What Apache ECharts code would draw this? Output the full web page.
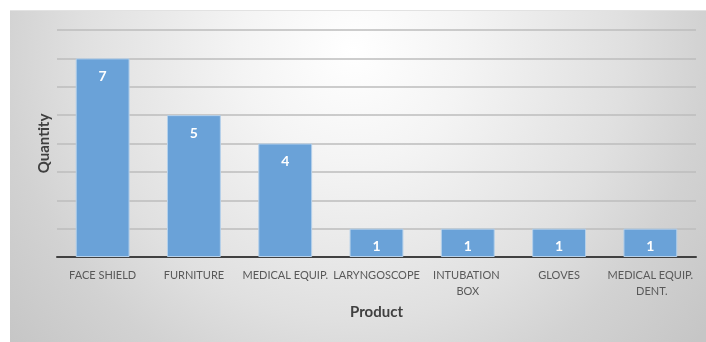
<!DOCTYPE html>
<html>
<head>
<meta charset="utf-8">
<script src="https://cdn.jsdelivr.net/npm/echarts@6/dist/echarts.min.js"></script>
<style>
  html, body { margin: 0; padding: 0; background: #ffffff; }
  #chart { width: 706px; height: 342px; }
</style>
</head>
<body>
<div id="chart"></div>
<script>
// Products and their quantities
const products = ['FACE SHIELD', 'FURNITURE', 'MEDICAL EQUIP.', 'LARYNGOSCOPE', 'INTUBATION BOX', 'GLOVES', 'MEDICAL EQUIP. DENT.'];
const quantities = [7, 5, 4, 1, 1, 1, 1];
const axisMax = 8;
const axisStep = 1;

const chart = echarts.init(document.getElementById('chart'), null, { renderer: 'canvas' });

const font = 'Lato, "Open Sans", sans-serif';

chart.setOption({
  animation: false,
  backgroundColor: '#ffffff',
  graphic: [{
    type: 'rect',
    z: -10,
    silent: true,
    shape: { x: 10, y: 10, width: 696, height: 332 },
    style: {
      // soft radial shading, brightest near the top centre of the panel
      fill: new echarts.graphic.RadialGradient(353, 50, 450, [
        { offset: 0, color: '#ffffff' },
        { offset: 0.25, color: '#f4f4f4' },
        { offset: 0.6, color: '#e0e0e0' },
        { offset: 0.78, color: '#d2d2d2' },
        { offset: 1, color: '#c6c6c6' }
      ], true)
    }
  }, {
    type: 'line',
    z: -9,
    silent: true,
    shape: { x1: 10, y1: 10.5, x2: 706, y2: 10.5 },
    style: { stroke: '#e2e2e2', lineWidth: 1 }
  }],
  grid: { left: 57, right: 10, top: 30, bottom: 342 - 257, containLabel: false },
  xAxis: {
    type: 'category',
    data: products,
    name: 'Product',
    nameLocation: 'middle',
    nameGap: 48,
    nameTextStyle: { fontFamily: font, fontSize: 15, fontWeight: 'bold', color: '#404040' },
    axisLine: { lineStyle: { color: '#404040', width: 2 } },
    axisTick: { show: false },
    axisLabel: {
      interval: 0,
      fontFamily: font,
      fontSize: 11,
      color: '#595959',
      margin: 10,
      width: 88,
      overflow: 'break',
      lineHeight: 16
    }
  },
  yAxis: {
    type: 'value',
    min: 0,
    max: axisMax,
    interval: axisStep,
    name: 'Quantity',
    nameLocation: 'middle',
    nameGap: 5,
    nameTextStyle: { fontFamily: font, fontSize: 15, fontWeight: 'bold', color: '#404040' },
    axisLabel: { show: false },
    axisLine: { show: false },
    axisTick: { show: false },
    splitLine: { lineStyle: { color: '#bdbdbd', width: 1.5 } }
  },
  series: [{
    type: 'bar',
    data: quantities,
    barWidth: '59%',
    itemStyle: { color: '#6aa2d8', borderColor: '#b5d0ea', borderWidth: 1 },
    label: {
      show: true,
      position: 'insideTop',
      distance: 11,
      color: '#ffffff',
      fontFamily: font,
      fontSize: 14,
      fontWeight: 'bold'
    }
  }]
});
</script>
</body>
</html>
